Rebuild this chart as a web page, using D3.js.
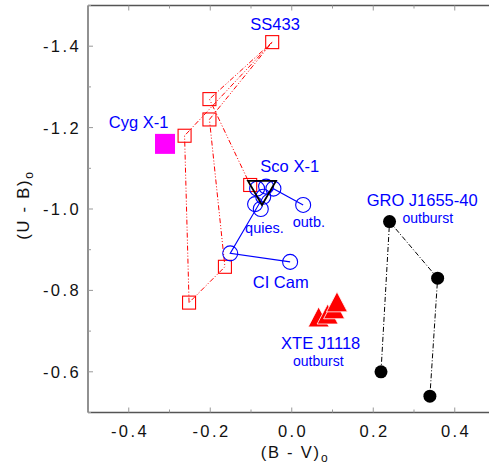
<html>
<head>
<meta charset="utf-8">
<title>color-color diagram</title>
<script src="https://cdn.jsdelivr.net/npm/d3@7"></script>
<style>
  body { margin: 0; background: #fff; }
  text { font-family: "Liberation Sans", Arial, sans-serif; }
</style>
</head>
<body>
<svg id="svg" width="489" height="466"></svg>
<script>
// ---- data (B-V, U-B) ----
var xTicks = [-0.4, -0.2, 0.0, 0.2, 0.4];
var yTicks = [-1.4, -1.2, -1.0, -0.8, -0.6];

// SS433 red open squares and the dash-dot tracks between them
var ss433 = [[-0.048, -1.41], [-0.202, -1.27], [-0.202, -1.22], [-0.263, -1.18],
             [-0.102, -1.059], [-0.164, -0.858], [-0.252, -0.77]];
var ss433Track1 = [[-0.252, -0.77], [-0.263, -1.18], [-0.048, -1.41], [-0.202, -1.22],
                   [-0.164, -0.858], [-0.252, -0.77]];
var ss433Track2 = [[-0.048, -1.41], [-0.202, -1.27], [-0.102, -1.059]];

// Cyg X-1 magenta filled square
var cyg = [[-0.311, -1.16]];

// Sco X-1 / CI Cam blue open circles
var scoCircles = [[-0.085, -1.05], [-0.063, -1.055], [-0.045, -1.05], [-0.07, -1.03],
                  [-0.09, -1.012], [-0.076, -1.0], [0.028, -1.01],
                  [-0.151, -0.891], [-0.004, -0.87]];
var scoTrack = [[0.028, -1.01], [-0.045, -1.05], [-0.07, -1.03], [-0.151, -0.891], [-0.004, -0.87]];

// black open triangle
var scoTri = [[-0.073, -1.047]];

// GRO J1655-40 black dots
var gro = [[0.219, -0.6], [0.24, -0.969], [0.358, -0.83], [0.339, -0.54]];

// XTE J1118 red filled triangles
var xte = [[0.066, -0.73], [0.088, -0.737], [0.104, -0.75], [0.111, -0.767]];

var labels = [
  {t: "SS433", x: -0.041, y: -1.44, s: 16.5},
  {t: "Cyg X-1", x: -0.376, y: -1.199, s: 16.5},
  {t: "Sco X-1", x: -0.005, y: -1.091, s: 16.5},
  {t: "quies.", x: -0.067, y: -0.941, s: 14.5},
  {t: "outb.", x: 0.042, y: -0.956, s: 14.5},
  {t: "CI Cam", x: -0.027, y: -0.806, s: 16.5},
  {t: "GRO J1655-40", x: 0.32, y: -1.007, s: 16.5},
  {t: "outburst", x: 0.334, y: -0.965, s: 14},
  {t: "XTE J1118", x: 0.071, y: -0.656, s: 16.5},
  {t: "outburst", x: 0.065, y: -0.614, s: 14}
];

// ---- drawing ----
var svg = d3.select("#svg");
var x = d3.scaleLinear().domain([-0.5, 0.5]).range([88, 495.5]);
var y = d3.scaleLinear().domain([-1.5, -0.5]).range([5.5, 412.5]);
var frameColor = "#555";
var minor = d3.range(-0.5, 0.51, 0.1);
var minorY = d3.range(-1.5, -0.49, 0.1);

var frame = svg.append("g");
frame.append("line").attr("x1", x(-0.5)).attr("x2", 489).attr("y1", y(-1.5)).attr("y2", y(-1.5))
  .attr("stroke", frameColor).attr("stroke-width", 1.3);
frame.append("line").attr("x1", x(-0.5)).attr("x2", 489).attr("y1", y(-0.5)).attr("y2", y(-0.5))
  .attr("stroke", frameColor).attr("stroke-width", 1.3);
frame.append("line").attr("x1", x(-0.5)).attr("x2", x(-0.5)).attr("y1", y(-1.5)).attr("y2", y(-0.5))
  .attr("stroke", frameColor).attr("stroke-width", 1.3);

// inward ticks
minor.forEach(function (v) {
  var big = xTicks.some(function (t) { return Math.abs(t - v) < 1e-6; });
  var len = big ? 5 : 3;
  frame.append("line").attr("x1", x(v)).attr("x2", x(v)).attr("y1", y(-0.5)).attr("y2", y(-0.5) - len)
    .attr("stroke", "#999");
  frame.append("line").attr("x1", x(v)).attr("x2", x(v)).attr("y1", y(-1.5)).attr("y2", y(-1.5) + len)
    .attr("stroke", "#999");
});
minorY.forEach(function (v) {
  var big = yTicks.some(function (t) { return Math.abs(t - v) < 1e-6; });
  var len = big ? 5 : 3;
  frame.append("line").attr("x1", x(-0.5)).attr("x2", x(-0.5) + len).attr("y1", y(v)).attr("y2", y(v))
    .attr("stroke", "#999");
});

// tick labels
svg.append("g").selectAll("text").data(xTicks).enter().append("text")
  .attr("x", function (d) { return x(d) + 1.2; })
  .attr("y", 437)
  .attr("text-anchor", "middle")
  .attr("font-size", 16.5)
  .attr("letter-spacing", 2.4)
  .attr("fill", "#111")
  .text(function (d) { return d3.format(".1f")(d).replace("−", "-"); });
svg.append("g").selectAll("text").data(yTicks).enter().append("text")
  .attr("x", 81)
  .attr("y", function (d) { return y(d) + 6; })
  .attr("text-anchor", "end")
  .attr("font-size", 16.5)
  .attr("letter-spacing", 2.4)
  .attr("fill", "#111")
  .text(function (d) { return d3.format(".1f")(d).replace("−", "-"); });

// axis titles
var xt = svg.append("text").attr("x", 295).attr("y", 458).attr("text-anchor", "middle")
  .attr("font-size", 16.5).attr("letter-spacing", 1.8).attr("fill", "#111");
xt.append("tspan").text("(B - V)");
xt.append("tspan").attr("font-size", 12).attr("dy", 4).text("o");

var yt = svg.append("text").attr("transform", "translate(29,205) rotate(-90)").attr("text-anchor", "middle")
  .attr("font-size", 16.5).attr("letter-spacing", 1.8).attr("fill", "#111");
yt.append("tspan").text("(U - B)");
yt.append("tspan").attr("font-size", 12).attr("dy", 4).text("o");

var line = d3.line().x(function (d) { return x(d[0]); }).y(function (d) { return y(d[1]); });
var plot = svg.append("g");

// SS433 tracks
[ss433Track1, ss433Track2].forEach(function (tr) {
  plot.append("path").attr("d", line(tr)).attr("fill", "none").attr("stroke", "#f00")
    .attr("stroke-width", 1).attr("stroke-dasharray", "5,2,1,2,1,2");
});
// GRO track
plot.append("path").attr("d", line(gro)).attr("fill", "none").attr("stroke", "#000")
  .attr("stroke-width", 1).attr("stroke-dasharray", "5,2,1,2");
// Sco X-1 / CI Cam track
plot.append("path").attr("d", line(scoTrack)).attr("fill", "none").attr("stroke", "#0000ff")
  .attr("stroke-width", 1.1);

plot.selectAll(".sq").data(ss433).enter().append("rect").attr("class", "sq")
  .attr("x", function (d) { return x(d[0]) - 6.5; })
  .attr("y", function (d) { return y(d[1]) - 6.5; })
  .attr("width", 13).attr("height", 13)
  .attr("fill", "none").attr("stroke", "#f00").attr("stroke-width", 1.1);

plot.selectAll(".cyg").data(cyg).enter().append("rect").attr("class", "cyg")
  .attr("x", function (d) { return x(d[0]) - 10; })
  .attr("y", function (d) { return y(d[1]) - 10; })
  .attr("width", 20).attr("height", 20).attr("fill", "#ff00ff");

plot.selectAll(".sc").data(scoCircles).enter().append("circle").attr("class", "sc")
  .attr("cx", function (d) { return x(d[0]); })
  .attr("cy", function (d) { return y(d[1]); })
  .attr("r", 7.5).attr("fill", "none").attr("stroke", "#0000ff").attr("stroke-width", 1.1);

plot.selectAll(".tri").data(scoTri).enter().append("path").attr("class", "tri")
  .attr("d", function (d) {
    var cx = x(d[0]), cy = y(d[1]);
    return "M" + (cx - 14) + "," + (cy - 9) + "L" + (cx + 14) + "," + (cy - 9) + "L" + cx + "," + (cy + 15) + "Z";
  })
  .attr("fill", "none").attr("stroke", "#000").attr("stroke-width", 1.8);

plot.selectAll(".gro").data(gro).enter().append("circle").attr("class", "gro")
  .attr("cx", function (d) { return x(d[0]); })
  .attr("cy", function (d) { return y(d[1]); })
  .attr("r", 6.5).attr("fill", "#000");

plot.selectAll(".xte").data(xte).enter().append("path").attr("class", "xte")
  .attr("d", function (d) {
    var cx = x(d[0]), cy = y(d[1]);
    return "M" + cx + "," + (cy - 12) + "L" + (cx + 10.5) + "," + (cy + 8) + "L" + (cx - 10.5) + "," + (cy + 8) + "Z";
  })
  .attr("fill", "#f00").attr("stroke", "#fff").attr("stroke-width", 0.8);

svg.append("g").selectAll("text").data(labels).enter().append("text")
  .attr("x", function (d) { return x(d.x); })
  .attr("y", function (d) { return y(d.y); })
  .attr("text-anchor", "middle")
  .attr("font-size", function (d) { return d.s; })
  .attr("fill", "#0000ff")
  .text(function (d) { return d.t; });
</script>
</body>
</html>
